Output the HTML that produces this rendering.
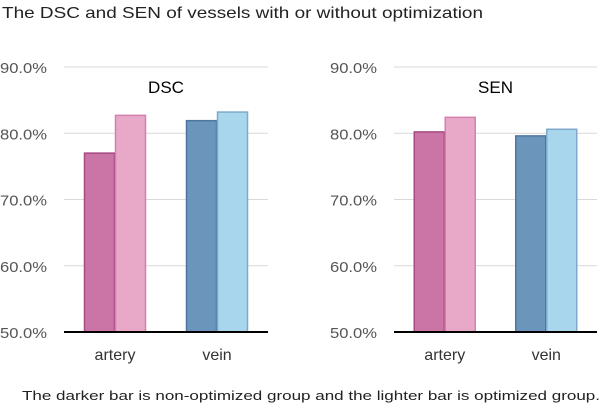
<!DOCTYPE html>
<html><head><meta charset="utf-8"><style>
body{margin:0;background:#fff;width:604px;height:406px;overflow:hidden;font-family:"Liberation Sans",sans-serif}
</style></head><body>
<svg id="c" width="604" height="406">
<text x="2" y="18" font-size="16" fill="#222" textLength="481" lengthAdjust="spacingAndGlyphs">The DSC and SEN of vessels with or without optimization</text>
<text x="22" y="400" font-size="13" fill="#222" textLength="578" lengthAdjust="spacingAndGlyphs">The darker bar is non-optimized group and the lighter bar is optimized group.</text>
</svg>
<script>
const categories=["artery","vein"];
const dscValues=[[77.0,82.7],[81.9,83.2]];
const senValues=[[80.2,82.4],[79.6,80.6]];
const ticks=[50,60,70,80,90];
const tickLabels=["50.0%","60.0%","70.0%","80.0%","90.0%"];
const panelTitles=["DSC","SEN"];
const svg=document.getElementById('c');
const NS="http://www.w3.org/2000/svg";
function mk(t,a,p){const e=document.createElementNS(NS,t);for(const k in a)e.setAttribute(k,a[k]);(p||svg).appendChild(e);return e;}
const colors=[[["#cb75a6","#a64a80"],["#e8a9c9","#d47fae"]],[["#6b95bb","#4f76a0"],["#a8d6ec","#7fa9cc"]]];
const panels=[{x0:64,x1:268,lx:47,data:dscValues},{x0:394,x1:597,lx:377,data:senValues}];
const yTop=67,yBot=332;
function y(v){return yBot-(v-50)/40*(yBot-yTop);}
panels.forEach((p,pi)=>{
  const g=mk('g',{});
  
  
  ticks.forEach((t,i)=>{
    if(i>0){const l=mk('line',{x1:p.x0,x2:p.x1,y1:y(t),y2:y(t),stroke:'#d9d9d9','stroke-width':1},g);
      }
    const tx=mk('text',{x:p.lx-47,y:y(t)+6,'font-size':15,fill:'#555',textLength:47,lengthAdjust:'spacingAndGlyphs'},g);
    tx.textContent=tickLabels[i];
    
  });
  const w=p.x1-p.x0, cw=w/categories.length, bw=31;
  categories.forEach((c,ci)=>{
    const cx=p.x0+cw*(ci+0.5);
    p.data[ci].forEach((v,si)=>{
      const bx=cx-bw+si*bw;
      const r=mk('rect',{x:bx+0.5,y:y(v),width:bw-1,height:yBot-y(v),fill:colors[ci][si][0],stroke:colors[ci][si][1],'stroke-width':1.5},g);
      
      
    });
    const lt=mk('text',{x:cx,y:360,'text-anchor':'middle','font-size':16,fill:'#333'},g);
    lt.textContent=c;
    
  });
  const ax=mk('line',{x1:p.x0,x2:p.x1,y1:yBot,y2:yBot,stroke:'#000','stroke-width':2},g);
  
  const tt=mk('text',{x:(p.x0+p.x1)/2,y:93,'text-anchor':'middle','font-size':17,fill:'#000'},g);
  tt.textContent=panelTitles[pi];
  
});
</script>
</body></html>
